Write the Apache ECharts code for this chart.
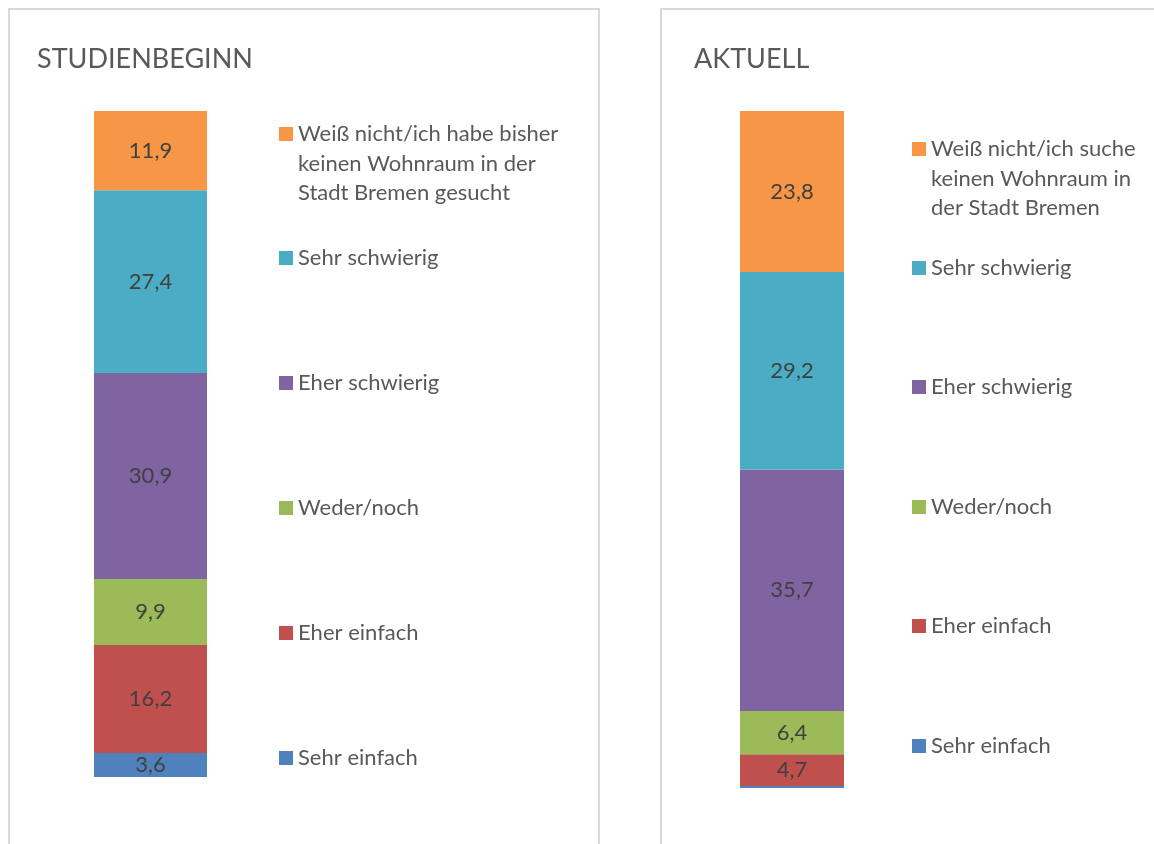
<!DOCTYPE html>
<html>
<head>
<meta charset="utf-8">
<script src="https://cdn.jsdelivr.net/npm/echarts@6/dist/echarts.min.js"></script>
<style>
  html, body { margin: 0; padding: 0; background: #fff; }
  #chart { width: 1154px; height: 844px; }
</style>
</head>
<body>
<div id="chart"></div>
<script>
// categories bottom -> top of the stack
const categories = ['Sehr einfach', 'Eher einfach', 'Weder/noch', 'Eher schwierig', 'Sehr schwierig', 'Weiß nicht'];
const colors = ['#4F81BD', '#C0504D', '#9BBB59', '#8064A2', '#4BACC6', '#F79646'];

const startValues = [3.6, 16.2, 9.9, 30.9, 27.4, 11.9];
const currentValues = [0.3, 4.7, 6.4, 35.7, 29.2, 23.8];

const startLegend = ['Sehr einfach', 'Eher einfach', 'Weder/noch', 'Eher schwierig', 'Sehr schwierig',
  'Weiß nicht/ich habe bisher\nkeinen Wohnraum in der\nStadt Bremen gesucht'];
const currentLegend = ['Sehr einfach', 'Eher einfach', 'Weder/noch', 'Eher schwierig', 'Sehr schwierig',
  'Weiß nicht/ich suche\nkeinen Wohnraum in\nder Stadt Bremen'];

const panelTitles = ['STUDIENBEGINN', 'AKTUELL'];

const FONT = 'Lato';
const LINE = 29.5;

const chart = echarts.init(document.getElementById('chart'));

// legend rows: center y of the first text line
const legendRows = [
  { left: 279, centers: [758, 633, 508, 383, 258, 134] },
  { left: 912, centers: [746, 626, 507, 387, 268, 149] }
];

function fmt(v) {
  return String(v).replace('.', ',');
}

function buildSeries(values, labels, gridIdx) {
  return values.map((v, i) => ({
    name: labels[i] + '#' + gridIdx,
    type: 'bar',
    stack: 'total' + gridIdx,
    xAxisIndex: gridIdx,
    yAxisIndex: gridIdx,
    data: [v],
    barWidth: '100%',
    itemStyle: { color: colors[i] },
    label: {
      show: v >= 1,
      position: 'inside',
      color: '#404040',
      fontFamily: FONT,
      fontSize: 22,
      formatter: p => fmt(p.value)
    },
    emphasis: { disabled: true }
  }));
}

// multi-line entries get blank lines on top so the marker sits on the first line
function buildLegends(labels, gridIdx) {
  const row = legendRows[gridIdx];
  return labels.map((lab, i) => {
    const extra = lab.split('\n').length - 1;
    const boxLines = 1 + extra * 2;
    return {
      data: [labels[i] + '#' + gridIdx],
      orient: 'vertical',
      left: row.left,
      top: row.centers[i] - (boxLines * LINE) / 2,
      padding: 0,
      itemWidth: 14,
      itemHeight: 14,
      icon: 'rect',
      selectedMode: false,
      formatter: name => '\n'.repeat(extra) + name.split('#')[0],
      textStyle: {
        color: '#595959',
        fontFamily: FONT,
        fontSize: 22,
        lineHeight: LINE
      }
    };
  });
}

const option = {
  animation: false,
  textStyle: { fontFamily: FONT },
  graphic: [
    { type: 'rect', shape: { x: 9, y: 9, width: 590, height: 900 }, style: { fill: 'none', stroke: '#d9d9d9', lineWidth: 2 }, silent: true },
    { type: 'rect', shape: { x: 661, y: 9, width: 600, height: 900 }, style: { fill: 'none', stroke: '#d9d9d9', lineWidth: 2 }, silent: true }
  ],
  title: [
    { text: panelTitles[0], left: 37, top: 46, padding: 0, textStyle: { color: '#595959', fontFamily: FONT, fontSize: 27, fontWeight: 'normal' } },
    { text: panelTitles[1], left: 694, top: 46, padding: 0, textStyle: { color: '#595959', fontFamily: FONT, fontSize: 27, fontWeight: 'normal' } }
  ],
  legend: [...buildLegends(startLegend, 0), ...buildLegends(currentLegend, 1)],
  grid: [
    { left: 94, top: 111, width: 113, height: 666 },
    { left: 740, top: 111, width: 104, height: 677 }
  ],
  xAxis: [0, 1].map(i => ({
    type: 'category',
    gridIndex: i,
    data: [''],
    show: false
  })),
  yAxis: [0, 1].map(i => ({
    type: 'value',
    gridIndex: i,
    min: 0,
    max: 'dataMax',
    show: false,
    splitLine: { show: false }
  })),
  series: [...buildSeries(startValues, startLegend, 0), ...buildSeries(currentValues, currentLegend, 1)]
};

chart.setOption(option);
</script>
</body>
</html>
